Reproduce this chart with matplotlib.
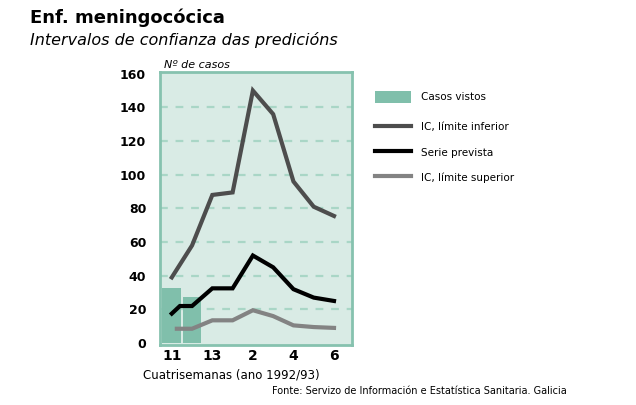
import matplotlib
matplotlib.use("Agg")
import matplotlib.pyplot as plt
from matplotlib.patches import Patch
from matplotlib.lines import Line2D

# data
tick_pos = [0, 2, 4, 6, 8]
tick_labels = ["11", "13", "2", "4", "6"]

observed_x = [0, 1]
observed = [33, 27.5]

upper_x = [0, 1, 2, 3, 4, 5, 6, 7, 8]
upper = [39, 58, 88, 89.5, 150, 136, 96, 81, 75.5]

central_x = [0, 0.4, 1, 2, 3, 4, 5, 6, 7, 8]
central = [17.5, 22, 22, 32.5, 32.5, 52, 45, 32, 27, 25]

lower_x = [0.25, 1, 2, 3, 4, 5, 6, 7, 8]
lower = [8.5, 8.5, 13.5, 13.5, 19.5, 16, 10.5, 9.5, 9]

yticks = [0, 20, 40, 60, 80, 100, 120, 140, 160]

bg = "#d9ebe5"
frame = "#86c2af"
bar_col = "#80bfab"
grid_col = "#a9d6c6"
c_up = "#4d4d4d"
c_mid = "#000000"
c_low = "#838383"

fig = plt.figure(figsize=(6.36, 4.05), dpi=100)
ax = fig.add_axes([0.2516, 0.148, 0.3013, 0.674])
ax.set_facecolor(bg)

ax.bar(observed_x, observed, width=0.92, color=bar_col, zorder=2)
for y in yticks[1:-1]:
    ax.axhline(y, color=grid_col, lw=1.6, ls=(0, (3.5, 3.5)), zorder=1)

ax.plot(upper_x, upper, color=c_up, lw=3, solid_joinstyle="miter", zorder=3)
ax.plot(central_x, central, color=c_mid, lw=3, solid_joinstyle="miter", zorder=3)
ax.plot(lower_x, lower, color=c_low, lw=3, solid_joinstyle="miter", zorder=3)

ax.set_xlim(-0.58, 8.87)
ax.set_ylim(-1.2, 161)
ax.set_yticks(yticks)
ax.set_yticklabels([str(v) for v in yticks], fontsize=9, fontweight="bold")
ax.set_xticks(tick_pos)
ax.set_xticklabels(tick_labels, fontsize=10, fontweight="bold")
ax.tick_params(length=0, pad=10)
ax.tick_params(axis="x", pad=3)
for s in ax.spines.values():
    s.set_color(frame)
    s.set_linewidth(2)

fig.text(0.047, 0.955, "Enf. meningocócica", fontsize=13, fontweight="bold", va="center")
fig.text(0.047, 0.9, "Intervalos de confianza das predicións", fontsize=11.5,
         style="italic", va="center")
fig.text(0.258, 0.84, "Nº de casos", fontsize=8, style="italic", va="center")
fig.text(0.225, 0.073, "Cuatrisemanas (ano 1992/93)", fontsize=8.5, va="center")
fig.text(0.428, 0.035, "Fonte: Servizo de Información e Estatística Sanitaria. Galicia",
         fontsize=7, va="center")

leg_kw = dict(loc="upper left", frameon=False, fontsize=7.5, handlelength=3.45,
              handleheight=1.35, handletextpad=0.9, borderpad=0, borderaxespad=0)

# two legends: the patch sits a bit apart from the three lines
fig.legend([Patch(facecolor=bar_col, edgecolor="none")], ["Casos vistos"],
           bbox_to_anchor=(0.59, 0.775), **leg_kw)

line_handles = [
    Line2D([], [], color=c_up, lw=3),
    Line2D([], [], color=c_mid, lw=3),
    Line2D([], [], color=c_low, lw=3),
]
line_labels = ["IC, límite inferior", "Serie prevista", "IC, límite superior"]
fig.legend(line_handles, line_labels, bbox_to_anchor=(0.59, 0.701),
           labelspacing=1.3, **leg_kw)

fig.savefig("out.png", dpi=100)
